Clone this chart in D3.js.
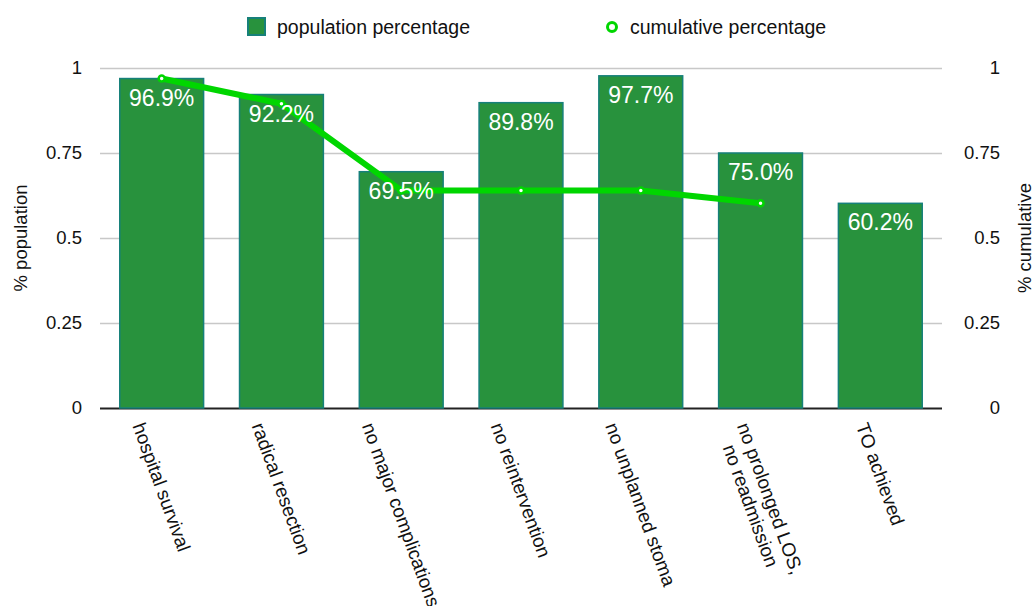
<!DOCTYPE html>
<html>
<head>
<meta charset="utf-8">
<script src="https://cdn.jsdelivr.net/npm/d3@7"></script>
<style>
  body { margin: 0; background: #fff; }
  text { font-family: "Liberation Sans", Arial, Helvetica, sans-serif; }
</style>
</head>
<body>
<div id="wrapper"></div>
<script>
const categories = [
  "hospital survival",
  "radical resection",
  "no major complications",
  "no reintervention",
  "no unplanned stoma",
  "no prolonged LOS,\nno readmission",
  "TO achieved"
];
const populationPct = [0.969, 0.922, 0.695, 0.898, 0.977, 0.750, 0.602];
const cumulativePct = [0.969, 0.895, 0.640, 0.640, 0.640, 0.602, null];
const yTicks = [0, 0.25, 0.5, 0.75, 1];
const legendLabels = ["population percentage", "cumulative percentage"];

const width = 1035;
const height = 606;
const plot = { left: 100, right: 942, top: 68, bottom: 408 };

const barFill = "#28923d";
const barStroke = "#16807a";
const lineColor = "#00d600";

const svg = d3.select("#wrapper").append("svg")
  .attr("width", width)
  .attr("height", height);

const xScale = d3.scaleBand()
  .domain(categories)
  .range([plot.left, plot.right])
  .paddingInner(0.3)
  .paddingOuter(0.165);

const yScale = d3.scaleLinear()
  .domain([0, 1])
  .range([plot.bottom, plot.top]);

// gridlines
const grid = svg.append("g")
  .attr("transform", `translate(${plot.left},0)`)
  .call(d3.axisLeft(yScale).tickValues(yTicks).tickSize(-(plot.right - plot.left)).tickFormat(""));
grid.select(".domain").remove();
grid.selectAll("line")
  .attr("stroke", d => d === 0 ? "#222" : "#c8c8c8")
  .attr("stroke-width", d => d === 0 ? 2 : 1.5);

// left tick labels
const yAxisLeft = svg.append("g")
  .attr("transform", `translate(82,0)`)
  .call(d3.axisLeft(yScale).tickValues(yTicks).tickSize(0).tickPadding(0).tickFormat(d => String(d)));
yAxisLeft.select(".domain").remove();
yAxisLeft.selectAll("text")
  .attr("font-size", 18.5)
  .attr("fill", "#111")
  .style("font-family", "'Liberation Sans', Arial, sans-serif");

// right tick labels
const yAxisRight = svg.append("g")
  .attr("transform", `translate(1000,0)`)
  .call(d3.axisLeft(yScale).tickValues(yTicks).tickSize(0).tickPadding(0).tickFormat(d => String(d)));
yAxisRight.select(".domain").remove();
yAxisRight.selectAll("text")
  .attr("font-size", 18.5)
  .attr("fill", "#111")
  .style("font-family", "'Liberation Sans', Arial, sans-serif");

// axis titles
svg.append("text")
  .attr("transform", `translate(27,${(plot.top + plot.bottom) / 2}) rotate(-90)`)
  .attr("text-anchor", "middle")
  .attr("font-size", 18.5)
  .attr("fill", "#111")
  .text("% population");

svg.append("text")
  .attr("transform", `translate(1031,${(plot.top + plot.bottom) / 2}) rotate(-90)`)
  .attr("text-anchor", "middle")
  .attr("font-size", 18.5)
  .attr("fill", "#111")
  .text("% cumulative");

// bars
svg.append("g").selectAll("rect")
  .data(populationPct)
  .join("rect")
  .attr("x", (d, i) => xScale(categories[i]))
  .attr("y", d => yScale(d))
  .attr("width", xScale.bandwidth())
  .attr("height", d => yScale(0) - yScale(d))
  .attr("fill", barFill)
  .attr("stroke", barStroke)
  .attr("stroke-width", 1.5);

// cumulative line
const lineData = cumulativePct.map((d, i) => ({ c: categories[i], v: d })).filter(d => d.v !== null);
const lineGenerator = d3.line()
  .x(d => xScale(d.c) + xScale.bandwidth() / 2)
  .y(d => yScale(d.v));

svg.append("path")
  .attr("d", lineGenerator(lineData))
  .attr("fill", "none")
  .attr("stroke", lineColor)
  .attr("stroke-width", 6)
  .attr("stroke-linejoin", "round");

svg.append("g").selectAll("circle")
  .data(lineData)
  .join("circle")
  .attr("cx", d => xScale(d.c) + xScale.bandwidth() / 2)
  .attr("cy", d => yScale(d.v))
  .attr("r", 3)
  .attr("fill", "#fff")
  .attr("stroke", lineColor)
  .attr("stroke-width", 2.5);

// value labels
svg.append("g").selectAll("text")
  .data(populationPct)
  .join("text")
  .attr("x", (d, i) => xScale(categories[i]) + xScale.bandwidth() / 2)
  .attr("y", d => yScale(d) + 27)
  .attr("text-anchor", "middle")
  .attr("font-size", 23)
  .attr("fill", "#fff")
  .text(d => d3.format(".1%")(d));

// rotated category labels, each centred on its bar, top of rotated box at y=420
const angle = 70;
const rad = angle * Math.PI / 180;
const labelSize = 19;
const lineHeight = labelSize * 1.1;
categories.forEach(cat => {
  const lines = cat.split("\n");
  const g = svg.append("g");
  const t = g.append("text")
    .attr("text-anchor", "middle")
    .attr("font-size", labelSize)
    .attr("fill", "#111");
  lines.forEach((ln, i) => {
    t.append("tspan")
      .attr("x", 0)
      .attr("y", (i - (lines.length - 1) / 2) * lineHeight)
      .attr("dy", "0.35em")
      .text(ln);
  });
  const w = d3.max(t.selectAll("tspan").nodes(), n => n.getComputedTextLength());
  const h = lines.length * lineHeight;
  const boxH = w * Math.sin(rad) + h * Math.cos(rad);
  const cx = xScale(cat) + xScale.bandwidth() / 2;
  g.attr("transform", `translate(${cx},${420 + boxH / 2}) rotate(${angle})`);
});

// legend
const legend = svg.append("g");
legend.append("rect")
  .attr("x", 248).attr("y", 18)
  .attr("width", 17).attr("height", 17)
  .attr("fill", barFill)
  .attr("stroke", barStroke)
  .attr("stroke-width", 2);
legend.append("text")
  .attr("x", 277).attr("y", 27)
  .attr("dy", "0.35em")
  .attr("font-size", 19.5)
  .attr("fill", "#111")
  .text(legendLabels[0]);
legend.append("circle")
  .attr("cx", 612).attr("cy", 27)
  .attr("r", 4.5)
  .attr("fill", "#fff")
  .attr("stroke", lineColor)
  .attr("stroke-width", 3);
legend.append("text")
  .attr("x", 630).attr("y", 27)
  .attr("dy", "0.35em")
  .attr("font-size", 19.5)
  .attr("fill", "#111")
  .text(legendLabels[1]);
</script>
</body>
</html>
